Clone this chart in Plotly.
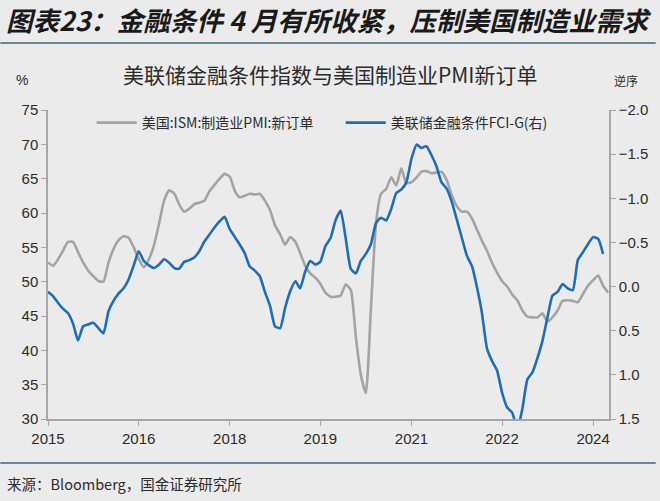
import pandas as pd
import plotly.graph_objects as go

# ---------------- data ----------------
months_gray = pd.date_range("2015-01-01", "2024-04-01", freq="MS")
months_blue = pd.date_range("2015-01-01", "2024-03-01", freq="MS")

ism_new_orders = [
    52.8, 52.3, 53.2, 54.5, 55.8, 55.8, 54.3, 52.8, 51.6, 50.8, 50.1, 50.0,  # 2015
    52.8, 54.8, 56.0, 56.6, 56.4, 55.0, 53.3, 52.1, 53.3, 55.3, 58.5, 61.8,  # 2016
    63.3, 62.8, 61.3, 60.2, 60.6, 61.3, 61.5, 61.8, 63.2, 64.1, 65.0, 65.7,  # 2017
    65.3, 63.2, 62.3, 62.5, 62.8, 62.7, 62.8, 61.8, 60.4, 58.2, 56.9, 55.4,  # 2018
    56.5, 55.8, 54.2, 52.3, 51.2, 50.6, 49.7, 48.4, 47.8, 47.8, 48.0, 49.6,  # 2019
    48.8, 41.8, 36.5, 33.8, 46.0, 58.5, 62.8, 63.5, 65.2, 64.0, 66.5, 64.3,  # 2020
    64.5, 65.2, 66.0, 66.1, 65.8, 65.9, 66.0, 64.8, 62.6, 61.0, 60.2, 60.2,  # 2021
    59.2, 57.5, 56.0, 54.5, 52.8, 51.3, 50.1, 49.3, 48.1, 47.3, 45.8, 44.9,  # 2022
    44.8, 44.8, 45.4, 44.2, 44.8, 45.8, 47.2, 47.3, 47.2, 47.0, 48.2, 49.4,  # 2023
    50.2, 50.9, 49.4, 48.4,                                                  # 2024
]

fci_g = [
    0.06, 0.11, 0.18, 0.25, 0.30, 0.42, 0.61, 0.45, 0.43, 0.41, 0.47, 0.53,   # 2015
    0.28, 0.16, 0.08, 0.02, -0.08, -0.24, -0.40, -0.29, -0.24, -0.21, -0.25, -0.31,  # 2016
    -0.27, -0.21, -0.20, -0.28, -0.30, -0.33, -0.40, -0.51, -0.59, -0.67, -0.74, -0.79,  # 2017
    -0.65, -0.56, -0.48, -0.38, -0.23, -0.18, -0.12, 0.06, 0.22, 0.45, 0.47, 0.24,  # 2018
    0.05, -0.06, 0.02, -0.17, -0.29, -0.25, -0.28, -0.46, -0.55, -0.75, -0.86, -0.55,  # 2019
    -0.20, -0.15, -0.29, -0.37, -0.48, -0.72, -0.78, -0.75, -0.88, -1.06, -1.10, -1.18,  # 2020
    -1.45, -1.61, -1.57, -1.59, -1.49, -1.36, -1.18, -1.11, -0.96, -0.76, -0.55, -0.35,  # 2021
    -0.23, 0.02, 0.29, 0.70, 0.84, 0.95, 1.20, 1.37, 1.43, 1.62, 1.38, 1.05,  # 2022
    0.97, 0.80, 0.62, 0.35, 0.10, 0.06, -0.03, 0.02, 0.04, -0.30, -0.39, -0.48,  # 2023
    -0.56, -0.54, -0.37,  # 2024
]

x_tick_dates = ["2015-01-01", "2016-07-01", "2018-01-01", "2019-07-01",
                "2021-01-01", "2022-07-01", "2024-01-01"]
x_tick_labels = ["2015", "2016", "2018", "2019", "2021", "2022", "2024"]
left_ticks = [30, 35, 40, 45, 50, 55, 60, 65, 70, 75]
right_ticks = [-2.0, -1.5, -1.0, -0.5, 0.0, 0.5, 1.0, 1.5]

name_gray = "美国:ISM:制造业PMI:新订单"
name_blue = "美联储金融条件FCI-G(右)"

# ---------------- layout helpers ----------------
W, H = 660, 501
L, R, T, B = 48, 613, 110, 419


def px(x):
    return (x - L) / (R - L)


def py(y):
    return (B - y) / (B - T)


BG = "#ebebeb"
AX = "#a6a6a6"
TXT = "#2b2b2b"
CJK = "Noto Sans CJK SC"
LAT = "Liberation Sans, Arial, Noto Sans CJK SC"

fig = go.Figure()
fig.add_trace(go.Scatter(
    x=months_gray, y=ism_new_orders, name=name_gray, mode="lines",
    line=dict(color="#a3a3a3", width=2.6, shape="spline", smoothing=0.5),
    yaxis="y"))
fig.add_trace(go.Scatter(
    x=months_blue, y=fci_g, name=name_blue, mode="lines",
    line=dict(color="#1f6db4", width=2.6, shape="spline", smoothing=0.5),
    yaxis="y2"))

fig.update_layout(
    width=W, height=H,
    margin=dict(l=L, r=W - R, t=T, b=H - B, pad=0),
    paper_bgcolor=BG, plot_bgcolor=BG,
    font=dict(family=LAT, size=15, color=TXT),
    showlegend=True,
    legend=dict(orientation="h", x=px(92), y=py(123), xanchor="left",
                yanchor="middle", bgcolor="rgba(0,0,0,0)",
                font=dict(family=CJK, size=14, color=TXT),
                entrywidth=194, entrywidthmode="pixels",
                itemwidth=40, traceorder="normal"),
    xaxis=dict(type="date", range=["2015-01-01", "2024-04-06"],
               tickvals=x_tick_dates, ticktext=x_tick_labels,
               showline=True, linecolor=AX, linewidth=1.5,
               ticks="outside", ticklen=5, tickcolor=AX,
               showgrid=False, zeroline=False,
               tickfont=dict(size=15, color=TXT)),
    yaxis=dict(range=[30, 75], tickvals=left_ticks,
               showline=True, linecolor=AX, linewidth=1.5,
               ticks="outside", ticklen=5, tickcolor=AX,
               showgrid=False, zeroline=False,
               tickfont=dict(size=15, color=TXT)),
    yaxis2=dict(range=[1.5, -2.0], tickvals=right_ticks, tickformat=".1f",
                overlaying="y", side="right",
                showline=True, linecolor=AX, linewidth=1.5,
                ticks="outside", ticklen=5, tickcolor=AX,
                showgrid=False, zeroline=False,
                tickfont=dict(size=15, color=TXT)),
)

ann = []
ann.append(dict(text="<b><i>图表23：金融条件 4 月有所收紧，压制美国制造业需求</i></b>",
                x=px(4), y=py(19), xanchor="left", yanchor="middle",
                font=dict(family=CJK, size=26.5, color="#1a1a1a")))
ann.append(dict(text="美联储金融条件指数与美国制造业PMI新订单",
                x=px(333), y=py(74), xanchor="center", yanchor="middle",
                font=dict(family=CJK, size=21, color=TXT)))
ann.append(dict(text="%", x=px(22), y=py(80), xanchor="center", yanchor="middle",
                font=dict(family=LAT, size=14, color=TXT)))
ann.append(dict(text="逆序", x=px(630), y=py(80), xanchor="center", yanchor="middle",
                font=dict(family=CJK, size=12, color=TXT)))
ann.append(dict(text="来源：Bloomberg，国金证券研究所",
                x=px(5), y=py(483), xanchor="left", yanchor="middle",
                font=dict(family=CJK, size=14.5, color=TXT)))
for a in ann:
    a.update(xref="paper", yref="paper", showarrow=False)
fig.update_layout(annotations=ann)

fig.update_layout(shapes=[
    dict(type="line", xref="paper", yref="paper", x0=px(0), x1=px(660),
         y0=py(43), y1=py(43), line=dict(color="#6a8797", width=2)),
    dict(type="line", xref="paper", yref="paper", x0=px(0), x1=px(660),
         y0=py(463), y1=py(463), line=dict(color="#6a8797", width=2)),
])

fig.write_html("out.html", config={"displayModeBar": False},
               post_script="document.body.style.margin='0';document.body.style.overflow='hidden';")
